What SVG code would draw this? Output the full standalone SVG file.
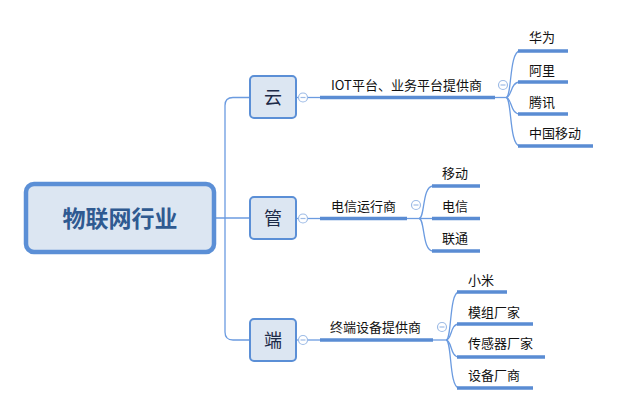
<svg xmlns="http://www.w3.org/2000/svg" width="630" height="420" viewBox="0 0 630 420">
<style>
.thin{fill:none;stroke:#6b9be0;stroke-width:1.3}
.thick{fill:none;stroke:#5a8cd3;stroke-width:3.5}
.l1{fill:#dce6f2;stroke:#5b8fd6;stroke-width:2}
.t1{font-family:"Noto Sans CJK SC","Liberation Sans",sans-serif;font-size:18px;fill:#1c2a48;text-anchor:middle}
.t2{font-family:"Noto Sans CJK SC","Liberation Sans",sans-serif;font-size:13px;fill:#111}
.col{fill:#fff;stroke:#9dbbe6;stroke-width:1.2}
.colm{stroke:#9dbbe6;stroke-width:1.2}
</style>
<rect width="630" height="420" fill="#fff"/>
<g id="connectors">
<path class="thin" d="M216 218 H250"/>
<path class="thin" d="M250 97.5 H233 Q225 97.5 225 105.5 V332 Q225 340 233 340 H250"/>
<path class="thin" d="M296 97.5 H320"/>
<path class="thin" d="M296 218.5 H320"/>
<path class="thin" d="M296 340 H320"/>
<path class="thick" d="M320 97.5 H495"/>
<path class="thick" d="M320 218.5 H407"/>
<path class="thick" d="M320 340 H433"/>
<path class="thin" d="M495 97.5 H506"/>
<path class="thin" d="M506 97.5 C512 97.5 509 51 520 51"/>
<path class="thin" d="M506 97.5 C512 97.5 510 82 520 82"/>
<path class="thin" d="M506 97.5 C512 97.5 510 114 520 114"/>
<path class="thin" d="M506 97.5 C512 97.5 509 146 520 146"/>
<path class="thin" d="M407 218.5 H432"/>
<path class="thin" d="M419 218.5 C425 218.5 422 186 433 186"/>
<path class="thin" d="M419 218.5 C425 218.5 422 251 433 251"/>
<path class="thin" d="M433 340 H446"/>
<path class="thin" d="M446 340 C452 340 449 292 459 292"/>
<path class="thin" d="M446 340 C452 340 450 324 459 324"/>
<path class="thin" d="M446 340 C452 340 450 357 459 357"/>
<path class="thin" d="M446 340 C452 340 449 388 459 388"/>
<g id="underlines">
<path class="thick" d="M518 51 H568 M518 82 H568 M518 114 H568 M518 146 H593"/>
<path class="thick" d="M432 186 H480 M432 218.5 H480 M432 251 H480"/>
<path class="thick" d="M457 292 H507 M457 324 H533 M457 357 H545 M457 388 H533"/>
</g>
<g id="collapse">
<circle class="col" cx="303" cy="97.5" r="4.5"/><path class="colm" d="M300.5 97.5 H305.5"/>
<circle class="col" cx="303" cy="218.5" r="4.5"/><path class="colm" d="M300.5 218.5 H305.5"/>
<circle class="col" cx="303" cy="340" r="4.5"/><path class="colm" d="M300.5 340 H305.5"/>
<circle class="col" cx="503" cy="85" r="4.5"/><path class="colm" d="M500.5 85 H505.5"/>
<circle class="col" cx="416" cy="205" r="4.5"/><path class="colm" d="M413.5 205 H418.5"/>
<circle class="col" cx="442" cy="327" r="4.5"/><path class="colm" d="M439.5 327 H444.5"/>
</g>
</g>
<g id="root">
<rect x="26" y="184" width="188" height="68" rx="8" fill="#dce6f2" stroke="#5b8fd6" stroke-width="4.5"/>
<text x="120" y="226.5" text-anchor="middle" font-family="'Noto Sans CJK SC','Liberation Sans',sans-serif" font-size="23" font-weight="bold" fill="#2f5a91">物联网行业</text>
</g>
<g id="n-yun"><rect class="l1" x="250" y="76" width="46" height="42" rx="4"/><text class="t1" x="273" y="103.5">云</text></g>
<g id="n-guan"><rect class="l1" x="250" y="197" width="46" height="42" rx="4"/><text class="t1" x="273" y="224.5">管</text></g>
<g id="n-duan"><rect class="l1" x="250" y="319" width="46" height="42" rx="4"/><text class="t1" x="273" y="346.5">端</text></g>
<g id="n-iot"><text class="t2" x="331" y="90">IOT平台、业务平台提供商</text></g>
<g id="n-dx"><text class="t2" x="331" y="211">电信运行商</text></g>
<g id="n-zd"><text class="t2" x="330" y="332">终端设备提供商</text></g>
<g id="n-huawei"><text class="t2" x="529" y="42">华为</text></g>
<g id="n-ali"><text class="t2" x="529" y="75">阿里</text></g>
<g id="n-tx"><text class="t2" x="529" y="107">腾讯</text></g>
<g id="n-cm"><text class="t2" x="529" y="138">中国移动</text></g>
<g id="n-yd"><text class="t2" x="442" y="178">移动</text></g>
<g id="n-dianxin"><text class="t2" x="442" y="211">电信</text></g>
<g id="n-lt"><text class="t2" x="442" y="243">联通</text></g>
<g id="n-xm"><text class="t2" x="468" y="285">小米</text></g>
<g id="n-mz"><text class="t2" x="468" y="317">模组厂家</text></g>
<g id="n-cgq"><text class="t2" x="468" y="348">传感器厂家</text></g>
<g id="n-sb"><text class="t2" x="468" y="380">设备厂商</text></g>
</svg>
